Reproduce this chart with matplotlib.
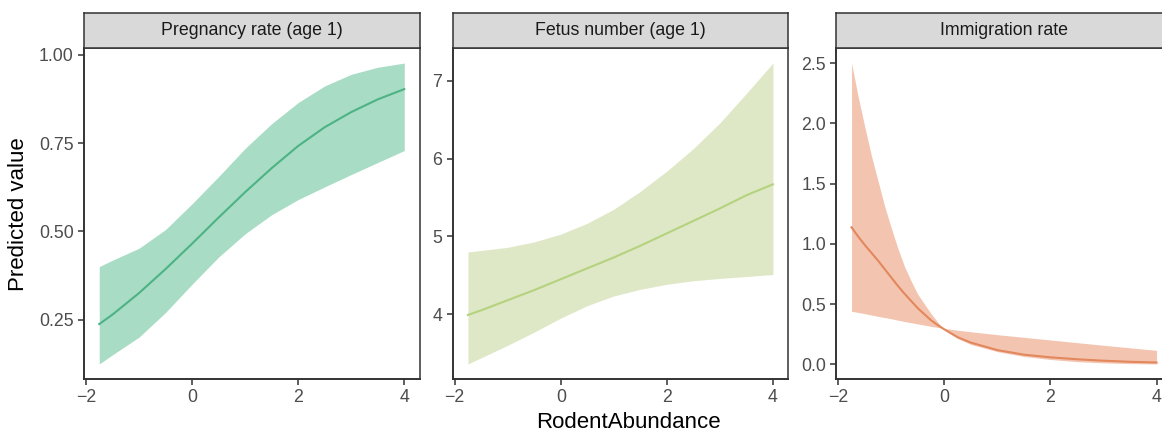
import matplotlib
matplotlib.use("Agg")
import matplotlib.pyplot as plt
import numpy as np
from matplotlib.ticker import FormatStrFormatter

plt.rcParams["font.family"] = ["Liberation Sans", "DejaVu Sans"]

# predicted values against RodentAbundance
x_preg = [-1.75, -1.5, -1.0, -0.5, 0.0, 0.5, 1.0, 1.5, 2.0, 2.5, 3.0, 3.5, 4.0]
preg_fit = [0.237, 0.264, 0.325, 0.393, 0.465, 0.539, 0.611, 0.679, 0.742, 0.795, 0.838, 0.874, 0.903]
preg_lo = [0.124, 0.150, 0.200, 0.270, 0.350, 0.427, 0.493, 0.547, 0.590, 0.626, 0.661, 0.695, 0.729]
preg_hi = [0.400, 0.418, 0.452, 0.505, 0.578, 0.655, 0.735, 0.805, 0.865, 0.912, 0.945, 0.965, 0.977]

x_fetus = [-1.75, -1.5, -1.0, -0.5, 0.0, 0.5, 1.0, 1.5, 2.0, 2.5, 3.0, 3.5, 4.0]
fetus_fit = [3.99, 4.05, 4.18, 4.31, 4.45, 4.59, 4.73, 4.88, 5.04, 5.20, 5.36, 5.53, 5.67]
fetus_lo = [3.36, 3.44, 3.60, 3.77, 3.95, 4.11, 4.235, 4.32, 4.385, 4.43, 4.46, 4.485, 4.51]
fetus_hi = [4.80, 4.82, 4.86, 4.93, 5.03, 5.17, 5.35, 5.58, 5.84, 6.13, 6.46, 6.84, 7.23]

x_immig = [-1.75, -1.625, -1.5, -1.375, -1.25, -1.125, -1.0, -0.875, -0.75, -0.625,
           -0.5, -0.375, -0.25, -0.125, 0.0, 0.25, 0.5, 1.0, 1.5, 2.0, 2.5, 3.0, 3.5, 4.0]
immig_fit = [1.137, 1.06, 0.99, 0.925, 0.86, 0.79, 0.72, 0.65, 0.585, 0.525,
             0.465, 0.415, 0.365, 0.325, 0.29, 0.225, 0.18, 0.118, 0.08, 0.058, 0.042, 0.030, 0.021, 0.015]
immig_lo = [0.440, 0.430, 0.420, 0.409, 0.398, 0.388, 0.378, 0.366, 0.355, 0.345,
            0.335, 0.325, 0.315, 0.306, 0.298, 0.283, 0.270, 0.246, 0.224, 0.202, 0.180, 0.158, 0.137, 0.116]
immig_hi = [2.50, 2.22, 1.97, 1.73, 1.52, 1.31, 1.13, 0.96, 0.81, 0.69,
            0.58, 0.50, 0.42, 0.35, 0.285, 0.215, 0.165, 0.105, 0.065, 0.04, 0.022, 0.012, 0.006, 0.003]

panels = [
    ("Pregnancy rate (age 1)", x_preg, preg_fit, preg_lo, preg_hi, "#A8DCC4", "#4DB385", [0.25, 0.50, 0.75, 1.00], "%.2f"),
    ("Fetus number (age 1)", x_fetus, fetus_fit, fetus_lo, fetus_hi, "#DEE8C6", "#B5D27E", [4, 5, 6, 7], "%d"),
    ("Immigration rate", x_immig, immig_fit, immig_lo, immig_hi, "#F3C5B1", "#E3875C", [0.0, 0.5, 1.0, 1.5, 2.0, 2.5], "%.1f"),
]

W, H = 1162, 432
fig = plt.figure(figsize=(W / 100, H / 100), dpi=100)

lefts = [84, 452.7, 836.3]
width = 335.5
top, bottom, strip_top = 48, 379, 13


def expand(lo, hi, f=0.05):
    r = hi - lo
    return lo - f * r, hi + f * r


for left, (title, xs, fit, lo, hi, fill, line, yt, fmt) in zip(lefts, panels):
    ax = fig.add_axes([left / W, 1 - bottom / H, width / W, (bottom - top) / H])
    ax.fill_between(xs, lo, hi, color=fill, linewidth=0)
    ax.plot(xs, fit, color=line, lw=1.5)
    ax.set_xlim(*expand(min(xs), max(xs)))
    ax.set_ylim(*expand(min(min(lo), min(hi)), max(max(lo), max(hi))))
    ax.set_xticks([-2, 0, 2, 4])
    ax.set_yticks(yt)
    ax.yaxis.set_major_formatter(FormatStrFormatter(fmt))
    for s in ax.spines.values():
        s.set_color("#333333")
        s.set_linewidth(1.1)
    ax.spines["left"].set_linewidth(1.4)
    ax.spines["bottom"].set_linewidth(1.4)
    ax.tick_params(direction="out", length=4.5, width=1.1, color="#333333",
                   labelsize=12.8, labelcolor="#4D4D4D", pad=3)

    # facet strip
    sax = fig.add_axes([left / W, 1 - top / H, width / W, (top - strip_top) / H])
    sax.set_xticks([])
    sax.set_yticks([])
    sax.set_facecolor("#D9D9D9")
    for s in sax.spines.values():
        s.set_color("#333333")
        s.set_linewidth(1.1)
    sax.text(0.5, 0.5, title, ha="center", va="center", fontsize=12.8,
             color="#1A1A1A", transform=sax.transAxes)

fig.text(19 / W, 1 - 214 / H, "Predicted value", rotation=90, ha="center",
         va="center", fontsize=16, color="black")
fig.text(628 / W, 1 - 423 / H, "RodentAbundance", ha="center", va="center",
         fontsize=16, color="black")

fig.savefig("out.png", dpi=100, facecolor="white")
